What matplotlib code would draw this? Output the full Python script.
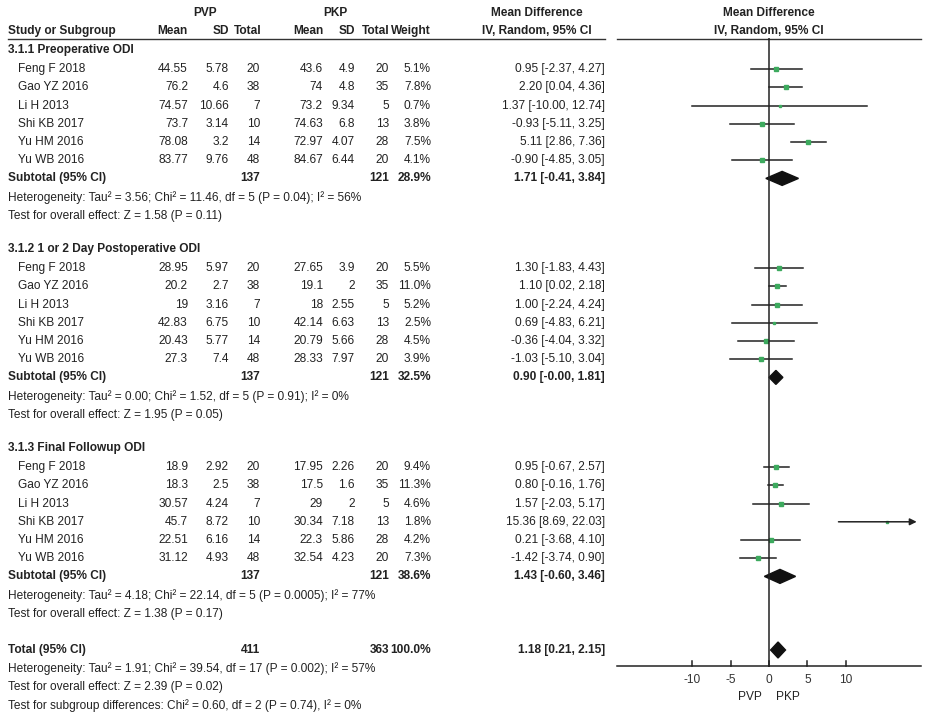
import matplotlib
matplotlib.use("Agg")
import matplotlib.pyplot as plt
from matplotlib.patches import Polygon

plt.rcParams['font.family'] = ['Liberation Sans', 'DejaVu Sans']

studies = ["Feng F 2018", "Gao YZ 2016", "Li H 2013", "Shi KB 2017", "Yu HM 2016", "Yu WB 2016"]
sections = ["3.1.1 Preoperative ODI", "3.1.2 1 or 2 Day Postoperative ODI", "3.1.3 Final Followup ODI"]
pvp_mean = [[44.55, 76.2, 74.57, 73.7, 78.08, 83.77],
            [28.95, 20.2, 19, 42.83, 20.43, 27.3],
            [18.9, 18.3, 30.57, 45.7, 22.51, 31.12]]
pvp_sd = [[5.78, 4.6, 10.66, 3.14, 3.2, 9.76],
          [5.97, 2.7, 3.16, 6.75, 5.77, 7.4],
          [2.92, 2.5, 4.24, 8.72, 6.16, 4.93]]
pvp_n = [20, 38, 7, 10, 14, 48]
pkp_mean = [[43.6, 74, 73.2, 74.63, 72.97, 84.67],
            [27.65, 19.1, 18, 42.14, 20.79, 28.33],
            [17.95, 17.5, 29, 30.34, 22.3, 32.54]]
pkp_sd = [[4.9, 4.8, 9.34, 6.8, 4.07, 6.44],
          [3.9, 2, 2.55, 6.63, 5.66, 7.97],
          [2.26, 1.6, 2, 7.18, 5.86, 4.23]]
pkp_n = [20, 35, 5, 13, 28, 20]
weights = [[5.1, 7.8, 0.7, 3.8, 7.5, 4.1],
           [5.5, 11.0, 5.2, 2.5, 4.5, 3.9],
           [9.4, 11.3, 4.6, 1.8, 4.2, 7.3]]
md = [[0.95, 2.20, 1.37, -0.93, 5.11, -0.90],
      [1.30, 1.10, 1.00, 0.69, -0.36, -1.03],
      [0.95, 0.80, 1.57, 15.36, 0.21, -1.42]]
lo = [[-2.37, 0.04, -10.00, -5.11, 2.86, -4.85],
      [-1.83, 0.02, -2.24, -4.83, -4.04, -5.10],
      [-0.67, -0.16, -2.03, 8.69, -3.68, -3.74]]
hi = [[4.27, 4.36, 12.74, 3.25, 7.36, 3.05],
      [4.43, 2.18, 4.24, 6.21, 3.32, 3.04],
      [2.57, 1.76, 5.17, 22.03, 4.10, 0.90]]
sub_w = ["28.9%", "32.5%", "38.6%"]
sub_md = [1.71, 0.90, 1.43]
sub_lo = [-0.41, -0.00, -0.60]
sub_hi = [3.84, 1.81, 3.46]
sub_ci = ["1.71 [-0.41, 3.84]", "0.90 [-0.00, 1.81]", "1.43 [-0.60, 3.46]"]
het = ["Heterogeneity: Tau² = 3.56; Chi² = 11.46, df = 5 (P = 0.04); I² = 56%",
       "Heterogeneity: Tau² = 0.00; Chi² = 1.52, df = 5 (P = 0.91); I² = 0%",
       "Heterogeneity: Tau² = 4.18; Chi² = 22.14, df = 5 (P = 0.0005); I² = 77%"]
eff = ["Test for overall effect: Z = 1.58 (P = 0.11)",
       "Test for overall effect: Z = 1.95 (P = 0.05)",
       "Test for overall effect: Z = 1.38 (P = 0.17)"]
tot_md, tot_lo, tot_hi = 1.18, 0.21, 2.15
ticks = [-10, -5, 0, 5, 10]

W, H = 940, 720
fig = plt.figure(figsize=(W/100, H/100), dpi=100)
ax = fig.add_axes([0, 0, 1, 1])
ax.set_xlim(0, W); ax.set_ylim(H, 0); ax.axis('off')

fx0, fx1, fy0, fy1 = 617, 921, 38, 667
fa = fig.add_axes([fx0/W, 1-fy1/H, (fx1-fx0)/W, (fy1-fy0)/H])
fa.set_xlim(-19.8, 19.8); fa.set_ylim(fy1, fy0); fa.axis('off')

fs = 8.6
def t(x, y, s, ha='left', bold=False):
    ax.text(x, y, s, ha=ha, va='center', fontsize=fs, color='#222222',
            fontweight='bold' if bold else 'normal')

t(205, 13, "PVP", 'center', True); t(335, 13, "PKP", 'center', True)
t(537, 13, "Mean Difference", 'center', True)
t(769, 13, "Mean Difference", 'center', True)
t(8, 31, "Study or Subgroup", bold=True)
for x, s in [(188, "Mean"), (229, "SD"), (261, "Total"), (323, "Mean"), (355, "SD"),
             (389, "Total"), (431, "Weight")]:
    t(x, 31, s, 'right', True)
t(537, 31, "IV, Random, 95% CI", 'center', True)
t(769, 31, "IV, Random, 95% CI", 'center', True)
ax.plot([8, 605], [39, 39], color='#333333', lw=1)
ax.plot([617, 921], [39, 39], color='#333333', lw=1)

step = 18.2
y = 50
def ci_str(m, l, h):
    return f"{m:.2f} [{l:.2f}, {h:.2f}]"

def diamond(m, l, h, yy, hh=7):
    fa.add_patch(Polygon([[l, yy], [m, yy-hh], [h, yy], [m, yy+hh]], closed=True,
                         color='#111111'))

for k in range(3):
    t(8, y, sections[k], bold=True)
    y += step + 1
    for i, s in enumerate(studies):
        t(18, y, s)
        t(188, y, f"{pvp_mean[k][i]:g}", 'right'); t(229, y, f"{pvp_sd[k][i]:g}", 'right')
        t(260, y, str(pvp_n[i]), 'right')
        t(323, y, f"{pkp_mean[k][i]:g}", 'right'); t(355, y, f"{pkp_sd[k][i]:g}", 'right')
        t(389, y, str(pkp_n[i]), 'right')
        t(431, y, f"{weights[k][i]:.1f}%", 'right')
        t(605, y, ci_str(md[k][i], lo[k][i], hi[k][i]), 'right')
        h = hi[k][i]
        if h > 19.8:
            fa.annotate("", xy=(19.6, y), xytext=(lo[k][i], y),
                        arrowprops=dict(arrowstyle='-|>', color='#222222', lw=1.1))
        else:
            fa.plot([lo[k][i], h], [y, y], color='#222222', lw=1.1)
        fa.plot(md[k][i], y, 's', color='#3daa5e', ms=1.8 + weights[k][i]*0.12)
        y += step
    t(8, y, "Subtotal (95% CI)", bold=True)
    t(260, y, str(sum(pvp_n)), 'right', True); t(389, y, str(sum(pkp_n)), 'right', True)
    t(431, y, sub_w[k], 'right', True); t(605, y, sub_ci[k], 'right', True)
    diamond(sub_md[k], sub_lo[k], sub_hi[k], y)
    y += step + 1
    t(8, y, het[k]); y += step
    t(8, y, eff[k]); y += step + 15

y = 650
t(8, y, "Total (95% CI)", bold=True)
t(260, y, str(3*sum(pvp_n)), 'right', True); t(389, y, str(3*sum(pkp_n)), 'right', True)
t(431, y, "100.0%", 'right', True); t(605, y, ci_str(tot_md, tot_lo, tot_hi), 'right', True)
diamond(tot_md, tot_lo, tot_hi, y, 8)
t(8, 669, "Heterogeneity: Tau² = 1.91; Chi² = 39.54, df = 17 (P = 0.002); I² = 57%")
t(8, 687, "Test for overall effect: Z = 2.39 (P = 0.02)")
t(8, 706, "Test for subgroup differences: Chi² = 0.60, df = 2 (P = 0.74), I² = 0%")

fa.plot([0, 0], [fy0, fy1], color='#222222', lw=1.1)
fa.plot([-19.8, 19.8], [fy1-1, fy1-1], color='#222222', lw=1.1, clip_on=False)
for v in ticks:
    fa.plot([v, v], [fy1-1, fy1-6], color='#222222', lw=1.1)
    xp = fx0 + (v + 19.8) / 39.6 * (fx1 - fx0)
    ax.text(xp, 680, str(v), ha='center', va='center', fontsize=fs, color='#333333')
t(750, 697, "PVP", 'center'); t(788, 697, "PKP", 'center')

fig.savefig("out.png", dpi=100, facecolor='white')
